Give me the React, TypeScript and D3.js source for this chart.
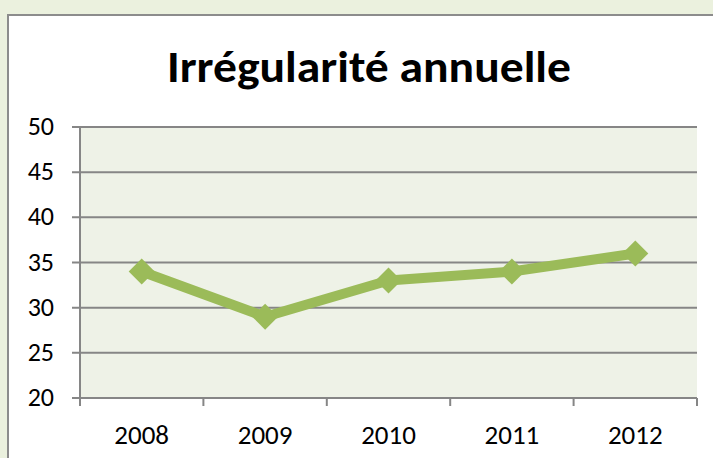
import React from "react";
import * as d3 from "d3";

const years = ["2008", "2009", "2010", "2011", "2012"];
const values = [34, 29, 33, 34, 36];
const yTicks = [20, 25, 30, 35, 40, 45, 50];
const title = "Irrégularité annuelle";

export default function App() {
  const W = 713, H = 458;
  const left = 80, right = 697, top = 127, bottom = 398;
  const x = d3.scaleBand<string>().domain(years).range([left, right]);
  const y = d3.scaleLinear().domain([20, 50]).range([bottom, top]);
  const line = d3.line<number>()
    .x((_, i) => (x(years[i]) as number) + x.bandwidth() / 2)
    .y((d) => y(d));
  const font = "Carlito, Calibri, Lato, 'Open Sans', sans-serif";
  const boundaries = [...years.map((c) => x(c) as number), right];
  return (
    <svg width={W} height={H} style={{ position: "absolute", left: 0, top: 0 }}>
      <rect x={0} y={0} width={W} height={H} fill="#ebf1de" />
      <rect x={8} y={15} width={W + 10} height={H + 10} fill="#ffffff" stroke="#8c8c8c" strokeWidth={2} />
      <text x={369} y={82} textAnchor="middle" fontFamily={font} fontWeight="bold" fontSize={45}
        textLength={404} lengthAdjust="spacingAndGlyphs" fill="#000">{title}</text>
      <rect x={left} y={top} width={right - left} height={bottom - top} fill="#eef2e7" />
      {yTicks.map((t) => (
        <g key={t}>
          <line x1={72} x2={right} y1={y(t)} y2={y(t)} stroke="#868686" strokeWidth={2} />
          <text x={54} y={y(t) + 8} textAnchor="end" fontFamily={font} fontSize={26} fill="#000">{t}</text>
        </g>
      ))}
      <line x1={left} x2={left} y1={top} y2={bottom} stroke="#868686" strokeWidth={2} />
      {boundaries.map((b, i) => (
        <line key={i} x1={b} x2={b} y1={bottom} y2={bottom + 8} stroke="#868686" strokeWidth={2} />
      ))}
      {years.map((c) => (
        <text key={c} x={(x(c) as number) + x.bandwidth() / 2} y={444} textAnchor="middle"
          fontFamily={font} fontSize={27} fill="#000">{c}</text>
      ))}
      <path d={line(values) || ""} fill="none" stroke="#9bbb59" strokeWidth={10} strokeLinejoin="round" />
      {values.map((v, i) => {
        const cx = (x(years[i]) as number) + x.bandwidth() / 2;
        const cy = y(v);
        const r = 13;
        return (
          <path key={i} d={`M${cx},${cy - r}L${cx + r},${cy}L${cx},${cy + r}L${cx - r},${cy}Z`} fill="#9bbb59" />
        );
      })}
    </svg>
  );
}
